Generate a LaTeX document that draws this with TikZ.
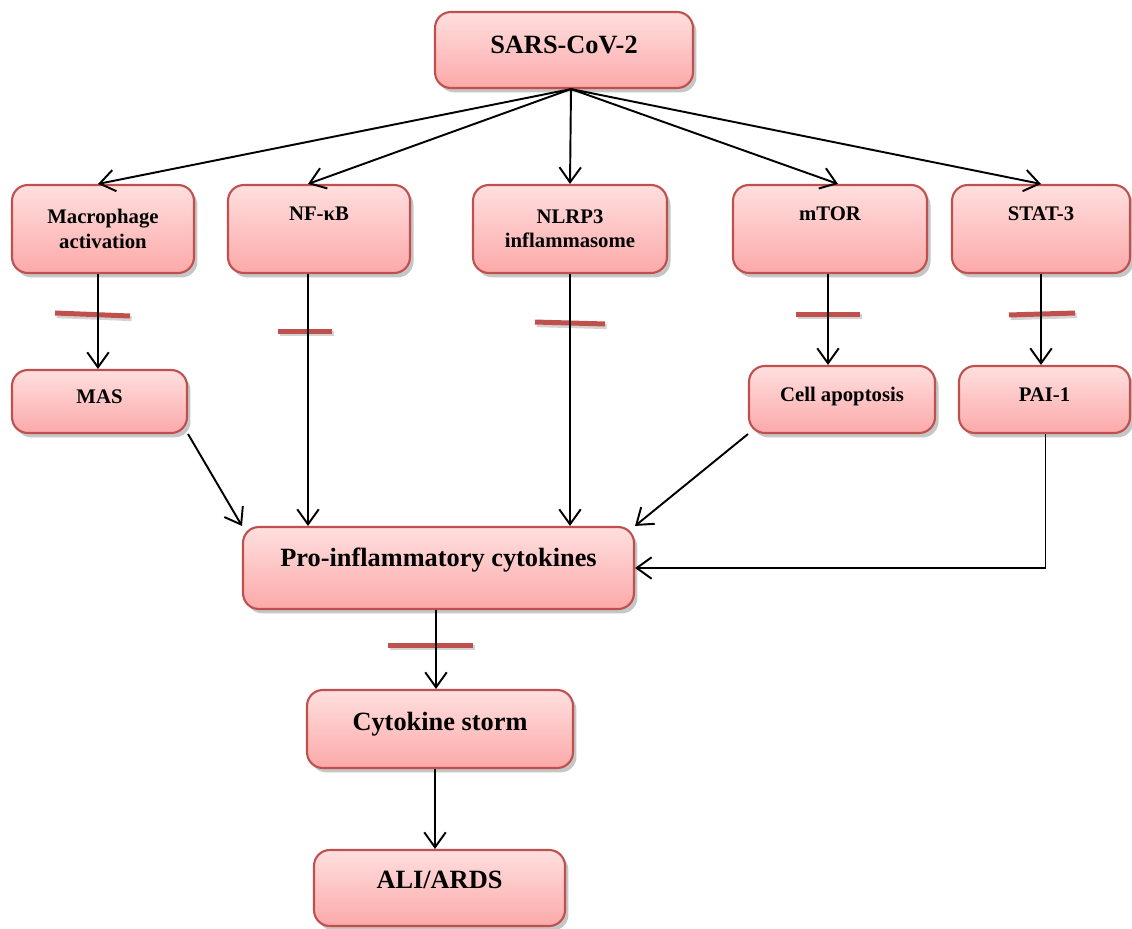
\documentclass[tikz,border=0pt]{standalone}
\usepackage{fontspec}
\setmainfont{Liberation Serif}
\usetikzlibrary{arrows.meta}
\usetikzlibrary{shadows}
\definecolor{boxred}{HTML}{C0504D}
\definecolor{pinktop}{HTML}{FFDFDF}
\definecolor{pinkbot}{HTML}{FCA9A9}
\tikzset{>={Straight Barb[length=3mm, width=4.3mm]}}
\tikzstyle{pbox} = [draw=boxred, line width=1.2pt, rounded corners=9pt, top color=pinktop, bottom color=pinkbot, drop shadow={shadow xshift=2pt, shadow yshift=-2.5pt, opacity=.45}, align=center, inner sep=0, font=\bfseries\fontsize{11.8}{13.8}\selectfont]
\tikzstyle{big} = [font=\bfseries\fontsize{15}{17}\selectfont]
\tikzstyle{blocker} = [draw=none, fill=boxred, inner sep=0, minimum height=0.1cm, drop shadow={shadow xshift=1pt, shadow yshift=-1.5pt, opacity=.35}]
\tikzstyle{arr} = [->, line width=1.1pt, draw=black]

\begin{document}
\begin{tikzpicture}[x=0.02cm, y=-0.02cm]
\useasboundingbox (0,0) rectangle (1132,929);
\node [pbox, big, minimum width=5.16cm, minimum height=1.52cm, text depth=6pt]  (sars) at (564, 50) {SARS-CoV-2};
\node [pbox, minimum width=3.64cm, minimum height=1.76cm]  (mac) at (103, 229) {Macrophage\\activation};
\node [pbox, minimum width=3.64cm, minimum height=1.76cm]  (nfkb) at (319, 229) {NF-κB\\\strut};
\node [pbox, minimum width=3.88cm, minimum height=1.76cm]  (nlrp) at (570, 229) {NLRP3\\inflammasome};
\node [pbox, minimum width=3.88cm, minimum height=1.76cm]  (mtor) at (830, 229) {mTOR\\\strut};
\node [pbox, minimum width=3.56cm, minimum height=1.76cm]  (stat) at (1041, 229) {STAT-3\\\strut};
\node [pbox, minimum width=3.5cm, minimum height=1.26cm, text depth=5pt]  (mas) at (99.5, 401.5) {MAS};
\node [pbox, minimum width=3.72cm, minimum height=1.34cm, text depth=6pt]  (apop) at (842, 399.5) {Cell apoptosis};
\node [pbox, minimum width=3.42cm, minimum height=1.34cm, text depth=6pt]  (pai) at (1044.5, 399.5) {PAI-1};
\node [pbox, big, minimum width=7.82cm, minimum height=1.64cm, text depth=12pt]  (pro) at (438.5, 568) {Pro-inflammatory cytokines};
\node [pbox, big, minimum width=5.32cm, minimum height=1.56cm, text depth=9pt]  (storm) at (440, 729) {Cytokine storm};
\node [pbox, big, minimum width=5.02cm, minimum height=1.52cm, text depth=9pt]  (ali) at (439.5, 888) {ALI/ARDS};
% inhibition bars
\node [blocker, minimum width=1.5cm, rotate=-2.3]  (b1) at (92.5, 314.5) {};
\node [blocker, minimum width=1.08cm]  (b2) at (305, 331) {};
\node [blocker, minimum width=1.4cm, rotate=-1.6]  (b3) at (570, 323) {};
\node [blocker, minimum width=1.28cm]  (b4) at (828, 314) {};
\node [blocker, minimum width=1.32cm, rotate=1.7]  (b5) at (1042, 314) {};
\node [blocker, minimum width=1.7cm]  (b6) at (430.5, 645) {};
% fan out
\draw [arr] ([xshift=0.14cm]sars.south) to ([xshift=-0.1cm]mac.north);
\draw [arr] ([xshift=0.14cm]sars.south) to ([xshift=-0.22cm]nfkb.north);
\draw [arr] ([xshift=0.14cm]sars.south) to (nlrp.north);
\draw [arr] ([xshift=0.14cm]sars.south) to ([xshift=0.16cm]mtor.north);
\draw [arr] ([xshift=0.14cm]sars.south) to (stat.north);
% downstream
\draw [arr] ([xshift=-0.1cm]mac.south) to ([xshift=-0.1cm]mac.south |- mas.north);
\draw [arr] ([xshift=-0.22cm]nfkb.south) to ([xshift=-0.22cm]nfkb.south |- pro.north);
\draw [arr] (nlrp.south) to (nlrp.south |- pro.north);
\draw [arr] ([xshift=-0.04cm]mtor.south) to ([xshift=-0.04cm]mtor.south |- apop.north);
\draw [arr] (stat.south) to (stat.south |- pai.north);
\draw [arr] (mas.south east) to (pro.north west);
\draw [arr] (apop.south west) to (pro.north east);
\draw [arr] ([xshift=0.02cm]pai.south) |- (pro.east);
\draw [arr] ([xshift=-0.05cm]pro.south) to ([xshift=-0.05cm]pro.south |- storm.north);
\draw [arr] ([xshift=-0.1cm]storm.south) to ([xshift=-0.1cm]storm.south |- ali.north);
\end{tikzpicture}
\end{document}
